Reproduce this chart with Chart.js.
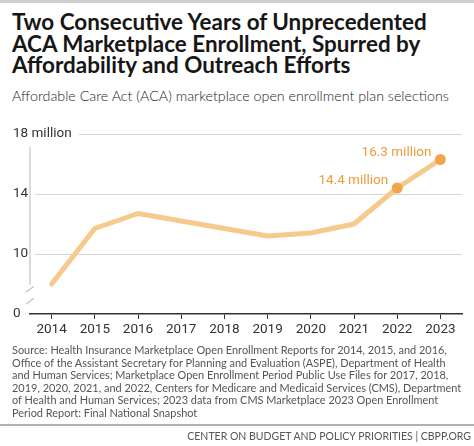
<!DOCTYPE html>
<html>
<head>
<meta charset="utf-8">
<script src="https://cdn.jsdelivr.net/npm/chart.js@4.4.1/dist/chart.umd.min.js"></script>
<style>
    html, body { margin: 0; padding: 0; background: #fff; }
    body { width: 474px; height: 446px; position: relative; overflow: hidden; font-family: 'Lato', sans-serif; }
    .topbar { position: absolute; left: 0; top: 0; width: 474px; height: 3px; background: #cfcfcf; }
    .fit { position: absolute; display: inline-block; white-space: nowrap; }
    #title { left: 12px; top: 11px; font-weight: 700; font-size: 20px; line-height: 21.7px; color: #161616; }
    #subtitle { left: 12px; top: 87px; font-weight: 300; font-size: 15px; line-height: 18px; color: #1c1c1c; }
    #source { left: 12px; top: 344px; font-size: 11px; line-height: 12.5px; color: #555; }
    .rule { position: absolute; left: 0; top: 424px; width: 474px; height: 2px; background: #b0b0b0; }
    #footer { right: 3px; top: 430px; font-size: 10px; line-height: 12px; color: #555; }
    #chartBox { position: absolute; left: 0; top: 105px; width: 474px; height: 240px; }
</style>
</head>
<body>
<div class="topbar"></div>
<div id="title" class="fit">Two Consecutive Years of Unprecedented<br>ACA Marketplace Enrollment, Spurred by<br>Affordability and Outreach Efforts</div>
<div id="subtitle" class="fit">Affordable Care Act (ACA) marketplace open enrollment plan selections</div>
<div id="chartBox"><canvas id="enrollChart"></canvas></div>
<div id="source" class="fit">Source: Health Insurance Marketplace Open Enrollment Reports for 2014, 2015, and 2016,<br>Office of the Assistant Secretary for Planning and Evaluation (ASPE), Department of Health<br>and Human Services; Marketplace Open Enrollment Period Public Use Files for 2017, 2018,<br>2019, 2020, 2021, and 2022, Centers for Medicare and Medicaid Services (CMS), Department<br>of Health and Human Services; 2023 data from CMS Marketplace 2023 Open Enrollment<br>Period Report: Final National Snapshot</div>
<div class="rule"></div>
<div id="footer" class="fit">CENTER ON BUDGET AND POLICY PRIORITIES | CBPP.ORG</div>

<script>
// plan selections, millions
const years = ['2014', '2015', '2016', '2017', '2018', '2019', '2020', '2021', '2022', '2023'];
const enrollment = [8.0, 11.7, 12.7, 12.2, 11.7, 11.2, 11.4, 12.0, 14.4, 16.3];
const highlighted = [8, 9]; // years that get a dot + label

// axis is broken: the bottom of the plot reads "0" but sits where 6 would be
const yTicks = [6, 10, 14, 18];
const yTickLabels = ['0', '10', '14', '18 million'];

const C = {
    line: '#f6c98d',
    dot: '#f0a54d',
    label: '#e99d3e',
    grid: '#d6d6d6',
    axis: '#333333',
    breakMark: '#c4c4c4',
    text: '#333333'
};

// stretch a text block so its widest line covers the reference width
function fitWidth(id, target) {
    const el = document.getElementById(id);
    const w = el.getBoundingClientRect().width;
    const fs = parseFloat(getComputedStyle(el).fontSize);
    el.style.fontSize = (fs * target / w) + 'px';
}
fitWidth('title', 415);
fitWidth('subtitle', 437);
fitWidth('source', 450);
fitWidth('footer', 284);

// y axis line with the break slashes near the bottom
const axisBreak = {
    id: 'axisBreak',
    beforeDatasetsDraw(chart) {
        const { ctx, chartArea } = chart;
        const y = chart.scales.y;
        const x0 = chartArea.left;
        ctx.save();
        ctx.strokeStyle = C.breakMark;
        ctx.lineWidth = 1.2;
        ctx.beginPath();
        ctx.moveTo(x0, y.getPixelForValue(17.15));
        ctx.lineTo(x0, y.getPixelForValue(7.95));
        [7.65, 6.85].forEach(v => {
            const yc = y.getPixelForValue(v);
            ctx.moveTo(x0 - 4, yc + 3);
            ctx.lineTo(x0 + 4, yc - 3);
        });
        ctx.stroke();
        ctx.restore();
    }
};

// "14.4 million" style labels next to the highlighted dots
const pointLabels = {
    id: 'pointLabels',
    afterDatasetsDraw(chart) {
        const { ctx } = chart;
        const meta = chart.getDatasetMeta(0);
        ctx.save();
        ctx.font = '13.5px Roboto';
        ctx.fillStyle = C.label;
        ctx.textAlign = 'right';
        ctx.textBaseline = 'middle';
        highlighted.forEach(i => {
            const pt = meta.data[i];
            ctx.fillText(enrollment[i].toFixed(1) + ' million', pt.x - 9, pt.y - 7);
        });
        ctx.restore();
    }
};

const ctx = document.getElementById('enrollChart').getContext('2d');
new Chart(ctx, {
    type: 'line',
    data: {
        labels: years,
        datasets: [{
            data: enrollment,
            borderColor: C.line,
            borderWidth: 5,
            borderCapStyle: 'round',
            borderJoinStyle: 'round',
            tension: 0,
            pointRadius: enrollment.map((v, i) => highlighted.includes(i) ? 5.5 : 0),
            pointBackgroundColor: C.dot,
            pointBorderWidth: 0
        }]
    },
    options: {
        responsive: true,
        maintainAspectRatio: false,
        animation: false,
        events: [],
        layout: { padding: { top: 29, left: 13, right: 12, bottom: 0 } },
        plugins: {
            legend: { display: false },
            tooltip: { enabled: false }
        },
        scales: {
            x: {
                offset: true,
                grid: {
                    offset: false,
                    drawOnChartArea: false,
                    drawTicks: true,
                    tickLength: 5,
                    color: C.axis,
                    lineWidth: 1
                },
                border: { display: true, color: C.axis, width: 1.5 },
                ticks: {
                    color: C.text,
                    font: { family: 'Roboto', size: 13.5 },
                    padding: 3,
                    maxRotation: 0,
                    autoSkip: false
                },
                afterFit(scale) { scale.height = 31; }
            },
            y: {
                min: 6,
                max: 18,
                afterBuildTicks(scale) {
                    scale.ticks = yTicks.map(v => ({ value: v }));
                },
                grid: {
                    drawTicks: false,
                    color: (c) => c.tick && c.tick.value === 6 ? 'rgba(0,0,0,0)' : C.grid,
                    lineWidth: 1
                },
                border: { display: false },
                ticks: {
                    color: C.text,
                    font: { family: 'Roboto', size: 13.5 },
                    // mirrored so the long top label isn't clipped to the axis box,
                    // then pulled back left of the plot with a negative padding
                    mirror: true,
                    crossAlign: 'near',
                    padding: -17,
                    showLabelBackdrop: true,
                    backdropColor: '#ffffff',
                    backdropPadding: { top: 2, bottom: 2, left: 1, right: 7 },
                    callback: (v, i) => yTickLabels[i]
                },
                afterFit(scale) { scale.width = 17; }
            }
        }
    },
    plugins: [axisBreak, pointLabels]
});
</script>
</body>
</html>
